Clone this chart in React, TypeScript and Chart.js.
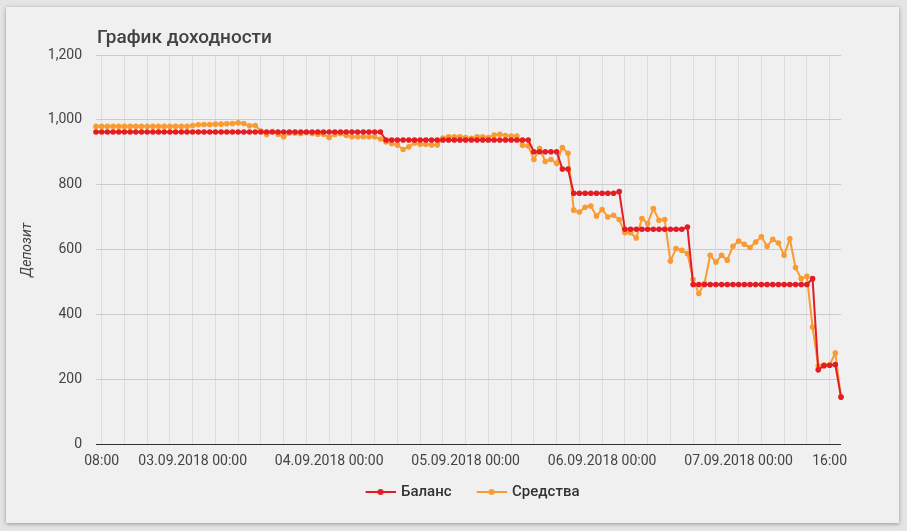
import React, { useEffect, useRef } from 'react';
import { Chart, registerables } from 'chart.js';

Chart.register(...registerables);

// Hourly samples, first one at 02.09.2018 07:00 (hour offset -1 from 08:00)
const startHour = -1;

const balance = [
  963, 963, 963, 963, 963, 963, 963, 963, 963, 963,
  963, 963, 963, 963, 963, 963, 963, 963, 963, 963,
  963, 963, 963, 963, 963, 963, 963, 963, 963, 963,
  963, 963, 963, 963, 963, 963, 963, 963, 963, 963,
  963, 963, 963, 963, 963, 963, 963, 963, 963, 963,
  963, 938, 938, 938, 938, 938, 938, 938, 938, 938,
  938, 938, 938, 938, 938, 938, 938, 938, 938, 938,
  938, 938, 938, 938, 938, 938, 938, 902, 902, 902,
  902, 902, 849, 849, 774, 774, 774, 774, 774, 774,
  774, 774, 779, 663, 663, 663, 663, 663, 663, 663,
  663, 663, 663, 663, 670, 493, 493, 493, 493, 493,
  493, 493, 493, 493, 493, 493, 493, 493, 493, 493,
  493, 493, 493, 493, 493, 493, 511, 230, 243, 244,
  246, 146,
];

const equity = [
  980, 980, 980, 980, 980, 980, 980, 980, 980, 980,
  980, 980, 980, 980, 980, 980, 980, 983, 985, 986,
  986, 987, 987, 988, 989, 991, 989, 982, 983, 966,
  955, 964, 956, 948, 960, 960, 958, 961, 958, 956,
  956, 946, 955, 958, 952, 948, 948, 948, 948, 948,
  941, 932, 927, 923, 909, 917, 929, 925, 925, 923,
  923, 944, 948, 948, 948, 946, 943, 948, 948, 946,
  953, 956, 952, 950, 950, 922, 920, 878, 912, 872,
  878, 866, 915, 897, 722, 716, 731, 735, 704, 724,
  701, 706, 693, 652, 652, 636, 696, 681, 727, 691,
  693, 565, 604, 598, 588, 508, 465, 496, 583, 562,
  583, 568, 611, 627, 617, 607, 624, 640, 611, 632,
  621, 583, 634, 545, 511, 518, 362, 242, 245, 245,
  282, 146,
];

const tickHours = [0, 16, 40, 64, 88, 112, 128];
const tickLabels = [
  '08:00',
  '03.09.2018 00:00',
  '04.09.2018 00:00',
  '05.09.2018 00:00',
  '06.09.2018 00:00',
  '07.09.2018 00:00',
  '16:00',
];
const gridStepHours = 4;
const seriesNames = ['Баланс', 'Средства'];

const RED = '#e41c24';
const ORANGE = '#f99b33';

// legend marker: a short line with a dot, with a transparent margin on its left
function legendIcon(color: string) {
  const margin = 10;
  const len = 30;
  const c = document.createElement('canvas');
  c.width = len + margin;
  c.height = 8;
  const g = c.getContext('2d')!;
  g.strokeStyle = color;
  g.lineWidth = 2;
  g.beginPath();
  g.moveTo(margin, 4);
  g.lineTo(margin + len, 4);
  g.stroke();
  g.fillStyle = color;
  g.beginPath();
  g.arc(margin + len / 2, 4, 3, 0, Math.PI * 2);
  g.fill();
  return c;
}

export default function App() {
  const ref = useRef<HTMLCanvasElement | null>(null);

  useEffect(() => {
    if (!ref.current) return;
    const labels = balance.map((_, i) => startHour + i);
    const colors = [RED, ORANGE];
    const chart = new Chart(ref.current, {
      type: 'line',
      data: {
        labels,
        datasets: [
          {
            label: seriesNames[0],
            data: balance,
            borderColor: RED,
            backgroundColor: RED,
            pointBackgroundColor: RED,
            pointBorderWidth: 0,
            pointRadius: 2.8,
            borderWidth: 2,
            tension: 0,
            clip: false,
          },
          {
            label: seriesNames[1],
            data: equity,
            borderColor: ORANGE,
            backgroundColor: ORANGE,
            pointBackgroundColor: ORANGE,
            pointBorderWidth: 0,
            pointRadius: 2.8,
            borderWidth: 2,
            tension: 0,
            clip: false,
          },
        ],
      },
      options: {
        animation: false,
        responsive: false,
        events: [],
        locale: 'en-US',
        layout: { padding: { left: 9, right: 58, top: 48, bottom: 13.5 } },
        scales: {
          x: {
            type: 'linear',
            min: startHour,
            max: startHour + balance.length - 1,
            afterBuildTicks: (s: any) => {
              const t: any[] = [];
              for (let v = tickHours[0]; v <= tickHours[tickHours.length - 1]; v += gridStepHours) t.push({ value: v });
              s.ticks = t;
            },
            afterFit: (s: any) => {
              s.height = 23;
            },
            ticks: {
              autoSkip: false,
              maxRotation: 0,
              padding: 9,
              color: '#444',
              font: { family: 'Roboto', size: 14 },
              callback: (v: any) => {
                const i = tickHours.indexOf(Number(v));
                return i >= 0 ? tickLabels[i] : '';
              },
            },
            grid: { color: '#dddddd', drawTicks: false },
            border: { display: false },
          },
          y: {
            min: 0,
            max: 1200,
            afterFit: (s: any) => {
              s.width = 81;
            },
            ticks: {
              stepSize: 200,
              padding: 14,
              color: '#444',
              font: { family: 'Roboto', size: 14 },
            },
            grid: {
              color: (c: any) => (c.tick && c.tick.value === 0 ? '#333333' : '#cccccc'),
              drawTicks: false,
            },
            border: { display: false },
            title: {
              display: true,
              text: 'Депозит',
              color: '#444',
              font: { family: 'Roboto', size: 14, style: 'italic' },
              padding: { top: 4, bottom: 4 },
            },
          },
        },
        plugins: {
          legend: {
            position: 'bottom',
            fullSize: false,
            labels: {
              usePointStyle: true,
              pointStyleWidth: 36,
              padding: 17,
              color: '#333',
              font: { family: 'Roboto', size: 15, weight: '500' },
              generateLabels: (ch: any) =>
                ch.data.datasets.map((d: any, i: number) => ({
                  text: d.label,
                  pointStyle: legendIcon(colors[i]),
                  fillStyle: colors[i],
                  strokeStyle: colors[i],
                  lineWidth: 0,
                  hidden: false,
                  datasetIndex: i,
                  fontColor: '#333',
                })),
            },
          },
          tooltip: { enabled: false },
        },
      },
    } as any);
    return () => chart.destroy();
  }, []);

  return (
    <div style={{ position: 'fixed', inset: 0, background: '#e4e4e4' }}>
      <div
        style={{
          position: 'absolute',
          left: 6,
          top: 7,
          width: 893,
          height: 516,
          background: '#f0f0f0',
          boxShadow: '0 1px 4px rgba(0,0,0,0.35)',
        }}
      >
        <canvas
          ref={ref}
          width={893}
          height={516}
          style={{ position: 'absolute', left: 0, top: 0, width: 893, height: 516 }}
        />
        <div
          style={{
            position: 'absolute',
            left: 91,
            top: 18,
            fontFamily: 'Roboto',
            fontSize: 19,
            fontWeight: 500,
            lineHeight: '24px',
            color: '#424242',
            whiteSpace: 'nowrap',
          }}
        >
          График доходности
        </div>
      </div>
    </div>
  );
}
